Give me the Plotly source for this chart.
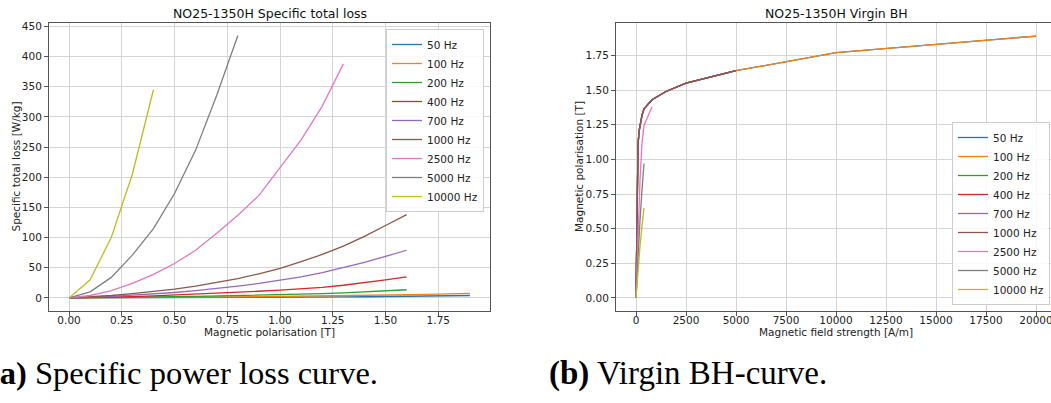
import plotly.graph_objects as go

W, H = 1051, 403

freq_labels = ["50 Hz", "100 Hz", "200 Hz", "400 Hz", "700 Hz", "1000 Hz", "2500 Hz", "5000 Hz", "10000 Hz"]
colors = ["#1f77b4", "#ff7f0e", "#2ca02c", "#d62728", "#9467bd", "#8c564b", "#e377c2", "#7f7f7f", "#bcbd22"]

# ---- Specific total loss [W/kg] vs magnetic polarisation [T] ----
J_to_19 = [0.0, 0.1, 0.2, 0.3, 0.4, 0.5, 0.6, 0.7, 0.8, 0.9, 1.0, 1.1, 1.2, 1.3, 1.4, 1.5, 1.6, 1.7, 1.8, 1.9]
J_to_16 = [0.0, 0.1, 0.2, 0.3, 0.4, 0.5, 0.6, 0.7, 0.8, 0.9, 1.0, 1.1, 1.2, 1.3, 1.4, 1.5, 1.6]
J_to_13 = [0.0, 0.1, 0.2, 0.3, 0.4, 0.5, 0.6, 0.7, 0.8, 0.9, 1.0, 1.1, 1.2, 1.3]
J_to_08 = [0.0, 0.1, 0.2, 0.3, 0.4, 0.5, 0.6, 0.7, 0.8]
J_to_04 = [0.0, 0.1, 0.2, 0.3, 0.4]

loss_50 = [0, 0.03, 0.1, 0.2, 0.3, 0.4, 0.5, 0.65, 0.8, 0.95, 1.1, 1.25, 1.45, 1.65, 1.9, 2.2, 2.6, 3.0, 3.5, 4.0]
loss_100 = [0, 0.06, 0.2, 0.4, 0.6, 0.85, 1.1, 1.4, 1.7, 2.0, 2.3, 2.7, 3.1, 3.5, 4.0, 4.5, 5.2, 6.0, 6.8, 7.5]
loss_200 = [0, 0.15, 0.5, 0.9, 1.4, 1.9, 2.5, 3.1, 3.8, 4.5, 5.3, 6.2, 7.2, 8.4, 9.8, 11.5, 13.5]
loss_400 = [0, 0.4, 1.2, 2.2, 3.3, 4.6, 6.0, 7.5, 9.2, 11, 13, 15, 17.5, 21, 25, 30, 35]
loss_700 = [0, 0.8, 2.5, 4.5, 6.5, 9, 12, 15.5, 19.5, 24, 29, 35, 42, 50, 59, 69, 79]
loss_1000 = [0, 1.5, 4, 7, 10.5, 14.5, 19.5, 25.5, 32, 40, 49, 60, 72, 86, 102, 120, 138]
loss_2500 = [0, 4, 12, 24, 39, 57, 79, 107, 137, 170, 216, 262, 318, 388]
loss_5000 = [0, 10, 34, 71, 115, 173, 245, 336, 435]
loss_10000 = [0, 30, 100, 205, 345]

loss_x = [J_to_19, J_to_19, J_to_16, J_to_16, J_to_16, J_to_16, J_to_13, J_to_08, J_to_04]
loss_y = [loss_50, loss_100, loss_200, loss_400, loss_700, loss_1000, loss_2500, loss_5000, loss_10000]

# ---- Virgin BH: field strength [A/m] vs polarisation [T] ----
H_50 = [0, 40, 70, 100, 150, 200, 300, 400, 800, 1500, 2500, 5000, 10000, 20000]
B_50 = [0, 0.70, 0.95, 1.10, 1.20, 1.25, 1.32, 1.365, 1.43, 1.49, 1.55, 1.64, 1.77, 1.89]
H_100 = [0, 40, 70, 100, 150, 200, 300, 400, 800, 1500, 2500, 5000, 10000, 20000]
B_100 = [0, 0.70, 0.95, 1.10, 1.20, 1.25, 1.32, 1.365, 1.43, 1.49, 1.55, 1.64, 1.77, 1.89]
H_200 = [0, 40, 70, 100, 150, 200, 300, 400, 800, 1500, 2500, 5000]
B_200 = [0, 0.70, 0.95, 1.10, 1.20, 1.25, 1.32, 1.365, 1.43, 1.49, 1.55, 1.64]
H_400 = [0, 40, 70, 100, 150, 200, 300, 400, 800, 1500, 2500, 5000]
B_400 = [0, 0.70, 0.95, 1.10, 1.20, 1.25, 1.32, 1.365, 1.43, 1.49, 1.55, 1.64]
H_700 = [0, 40, 70, 100, 150, 200, 300, 400, 800, 1500, 2500, 5000]
B_700 = [0, 0.70, 0.95, 1.10, 1.20, 1.25, 1.32, 1.365, 1.43, 1.49, 1.55, 1.64]
H_1000 = [0, 40, 70, 100, 150, 200, 300, 400, 800, 1500, 2500, 5000]
B_1000 = [0, 0.70, 0.95, 1.10, 1.20, 1.25, 1.32, 1.365, 1.43, 1.49, 1.55, 1.64]
H_2500 = [0, 100, 200, 300, 400, 800]
B_2500 = [0, 0.45, 0.85, 1.12, 1.245, 1.38]
H_5000 = [0, 100, 200, 300, 400]
B_5000 = [0, 0.30, 0.56, 0.78, 0.97]
H_10000 = [0, 100, 200, 300, 400]
B_10000 = [0, 0.20, 0.37, 0.52, 0.65]

bh_x = [H_50, H_100, H_200, H_400, H_700, H_1000, H_2500, H_5000, H_10000]
bh_y = [B_50, B_100, B_200, B_400, B_700, B_1000, B_2500, B_5000, B_10000]

left_ticks_x = [0.0, 0.25, 0.5, 0.75, 1.0, 1.25, 1.5, 1.75]
left_ticks_y = [0, 50, 100, 150, 200, 250, 300, 350, 400, 450]
right_ticks_x = [0, 2500, 5000, 7500, 10000, 12500, 15000, 17500, 20000]
right_ticks_y = [0.0, 0.25, 0.5, 0.75, 1.0, 1.25, 1.5, 1.75]

fig = go.Figure()
for i, name in enumerate(freq_labels):
    fig.add_trace(go.Scatter(x=loss_x[i], y=loss_y[i], mode="lines", name=name,
                             line=dict(color=colors[i], width=1.3),
                             xaxis="x", yaxis="y", legend="legend"))
for i, name in enumerate(freq_labels):
    fig.add_trace(go.Scatter(x=bh_x[i], y=bh_y[i], mode="lines", name=name,
                             line=dict(color=colors[i], width=1.3),
                             xaxis="x2", yaxis="y2", legend="legend2"))

def px(x):
    return x / W

def py(y):
    return 1 - y / H

axis_common = dict(showline=True, linecolor="#555555", linewidth=1, mirror=True,
                   ticks="outside", ticklen=4, tickcolor="#555555", tickwidth=1,
                   showgrid=True, gridcolor="#d4d4d4", gridwidth=1, zeroline=False,
                   automargin=False,
                   tickfont=dict(family="DejaVu Sans", size=10.5, color="#222222"))

fig.update_layout(
    width=W, height=H,
    margin=dict(l=0, r=0, t=0, b=0, pad=0, autoexpand=False),
    paper_bgcolor="white", plot_bgcolor="white",
    font=dict(family="DejaVu Sans", color="#222222"),
    xaxis=dict(domain=[px(49), px(490)], range=[-0.095, 1.995], tickvals=left_ticks_x,
               tickformat=".2f", anchor="y", ticklabelstandoff=-5, **axis_common),
    yaxis=dict(domain=[py(311), py(23)], range=[-21.7, 455.7], tickvals=left_ticks_y,
               anchor="x", **axis_common),
    xaxis2=dict(domain=[px(616), 1.0], range=[-1000, 20750], tickvals=right_ticks_x,
                tickformat="d", anchor="y2", ticklabelstandoff=-5,
                ticklabeloverflow="allow", **axis_common),
    yaxis2=dict(domain=[py(311), py(23)], range=[-0.0945, 1.9845], tickvals=right_ticks_y,
                tickformat=".2f", anchor="x2", **axis_common),
    legend=dict(x=px(484), xanchor="right", y=py(29), yanchor="top",
                bgcolor="rgba(255,255,255,0.85)", bordercolor="#cccccc", borderwidth=1,
                font=dict(family="DejaVu Sans", size=10.5, color="#222222")),
    legend2=dict(x=px(1050), xanchor="right", y=py(305), yanchor="bottom",
                 bgcolor="rgba(255,255,255,0.85)", bordercolor="#cccccc", borderwidth=1,
                 font=dict(family="DejaVu Sans", size=10.5, color="#222222")),
)

ann = []
ann.append(dict(text="NO25-1350H Specific total loss", x=px(269.5), y=py(14), xref="paper", yref="paper",
                showarrow=False, xanchor="center", yanchor="middle",
                font=dict(family="DejaVu Sans", size=12.5, color="#111111")))
ann.append(dict(text="NO25-1350H Virgin BH", x=px(836), y=py(14), xref="paper", yref="paper",
                showarrow=False, xanchor="center", yanchor="middle",
                font=dict(family="DejaVu Sans", size=12.5, color="#111111")))
ann.append(dict(text="Magnetic polarisation [T]", x=px(269.5), y=py(332), xref="paper", yref="paper",
                showarrow=False, xanchor="center", yanchor="middle",
                font=dict(family="DejaVu Sans", size=10.5, color="#222222")))
ann.append(dict(text="Magnetic field strength [A/m]", x=px(836), y=py(332), xref="paper", yref="paper",
                showarrow=False, xanchor="center", yanchor="middle",
                font=dict(family="DejaVu Sans", size=10.5, color="#222222")))
ann.append(dict(text="Specific total loss [W/kg]", x=px(15.5), y=py(167), xref="paper", yref="paper",
                showarrow=False, xanchor="center", yanchor="middle", textangle=-90,
                font=dict(family="DejaVu Sans", size=10.5, color="#222222")))
ann.append(dict(text="Magnetic polarisation [T]", x=px(579), y=py(167), xref="paper", yref="paper",
                showarrow=False, xanchor="center", yanchor="middle", textangle=-90,
                font=dict(family="DejaVu Sans", size=10.5, color="#222222")))
ann.append(dict(text="<b>(a)</b> Specific power loss curve.", x=px(-13), y=py(373), xref="paper", yref="paper",
                showarrow=False, xanchor="left", yanchor="middle",
                font=dict(family="Liberation Serif", size=32.5, color="#000000")))
ann.append(dict(text="<b>(b)</b> Virgin BH-curve.", x=px(547), y=py(373), xref="paper", yref="paper",
                showarrow=False, xanchor="left", yanchor="middle",
                font=dict(family="Liberation Serif", size=33, color="#000000")))
fig.update_layout(annotations=ann)

fig.write_html("out.html", config={"displayModeBar": False},
               post_script="document.body.style.margin='0';document.body.style.overflow='hidden';")
